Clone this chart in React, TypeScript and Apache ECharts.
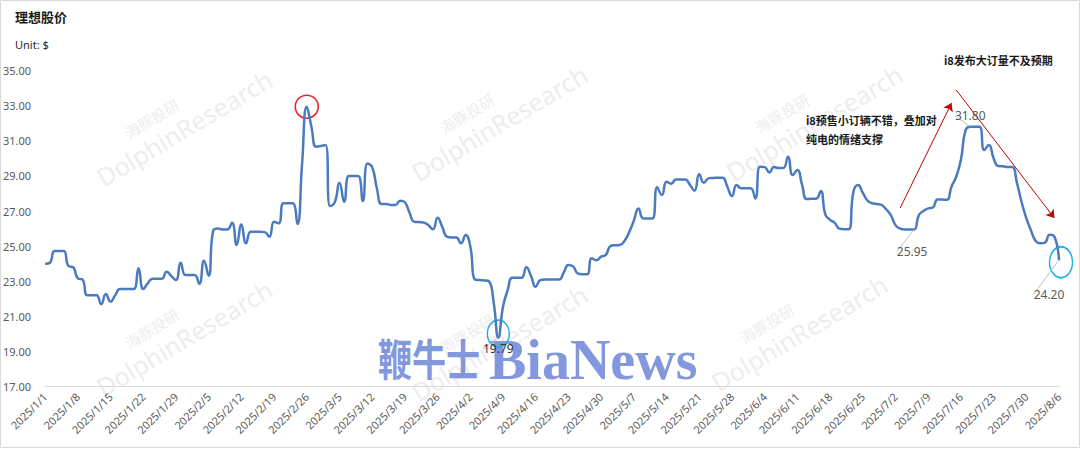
import React, { useEffect, useRef } from "react";
import * as echarts from "echarts";

// Daily closing prices (calendar days from 2025/1/1)
const closes: number[] = [
  24.0, 24.05, 24.72, 24.72, 24.72, 23.87, 23.8, 23.17, 23.1, 22.2,
  22.2, 22.2, 21.7, 22.27, 21.84, 22.2, 22.56, 22.56, 22.56, 22.56,
  23.74, 22.56, 22.9, 23.15, 23.15, 23.15, 23.55, 23.3, 23.07, 24.06,
  23.36, 23.36, 23.36, 22.85, 24.17, 23.32, 25.9, 26.0, 25.95, 25.95,
  26.33, 25.07, 26.24, 25.16, 25.82, 25.82, 25.82, 25.8, 25.54, 26.39,
  26.3, 27.44, 27.44, 27.44, 26.26, 29.7, 32.94, 31.8, 30.66, 30.7,
  30.76, 27.28, 27.5, 28.61, 27.53, 28.99, 28.99, 28.99, 27.57, 29.7,
  29.5, 28.3, 27.4, 27.4, 27.35, 27.35, 27.59, 27.5, 26.9, 26.39,
  26.37, 26.35, 26.2, 25.96, 26.62, 26.1, 25.54, 25.5, 25.5, 25.16,
  25.63, 25.0, 23.1, 23.07, 23.05, 23.0, 21.8, 19.79, 21.55, 22.5,
  23.2, 23.2, 23.2, 23.8, 23.3, 22.69, 23.07, 23.1, 23.1, 23.1,
  23.1, 23.5, 23.93, 23.85, 23.45, 23.4, 23.4, 24.31, 24.2, 24.4,
  24.5, 25.0, 25.05, 25.06, 25.3, 25.8, 26.45, 27.15, 26.58, 26.58,
  26.58, 28.35, 27.91, 28.67, 28.55, 28.8, 28.8, 28.8, 28.5, 28.16,
  29.09, 28.61, 28.86, 28.88, 28.9, 28.9, 28.4, 27.85, 28.48, 28.29,
  28.29, 28.29, 27.72, 29.52, 29.5, 29.2, 29.5, 29.45, 29.45, 30.09,
  29.05, 29.33, 28.5, 27.68, 27.7, 27.7, 28.14, 26.8, 26.5, 26.33,
  26.0, 25.97, 25.97, 28.1, 28.48, 28.04, 27.6, 27.44, 27.4, 27.35,
  27.1, 26.77, 26.2, 26.0, 25.95, 25.95, 25.95, 26.77, 27.0, 27.15,
  27.2, 27.66, 27.65, 27.64, 28.4, 28.95, 29.9, 31.6, 31.8, 31.8,
  31.8, 30.47, 30.76, 30.0, 29.56, 29.55, 29.5, 29.5, 28.6, 27.5,
  26.6, 25.9, 25.3, 25.16, 25.2, 25.65, 25.55, 24.2,
];

// Category dates, one per calendar day
const dates: string[] = [];
for (let i = 0; i < closes.length; i++) {
  const d = new Date(Date.UTC(2025, 0, 1 + i));
  dates.push(`${d.getUTCFullYear()}/${d.getUTCMonth() + 1}/${d.getUTCDate()}`);
}

const yTicks = { min: 17, max: 35, interval: 2 };

// Highlighted points (indices into closes)
const lowIdx = 97; // 2025/4/8
const julyLowIdx = 186;
const julyHighIdx = 198;
const lastIdx = 217;
const peakIdx = 56;
const labelledIdx = [lowIdx, julyLowIdx, julyHighIdx, lastIdx];

// Arrow annotations: [startIdx, startVal, endIdx, endVal]
const arrows: [number, number, number, number][] = [
  [183, 27.17, 194, 33.15],
  [195, 33.89, 216, 26.6],
];

const title = "理想股价";
const unitText = "Unit: $";
const note1 = ["i8预售小订辆不错，叠加对", "纯电的情绪支撑"];
const note2 = "i8发布大订量不及预期";

const ellipsePath = "path://M0,10 A10,10 0 1,1 20,10 A10,10 0 1,1 0,10 Z";

export default function App() {
  const ref = useRef<HTMLDivElement>(null);
  useEffect(() => {
    if (!ref.current) return;
    const chart = echarts.init(ref.current, undefined, { renderer: "svg" });
    const font = "'Noto Sans', 'Noto Sans CJK SC', sans-serif";
    const cjk = "'Noto Sans CJK SC', 'Noto Sans', sans-serif";

    const seriesData = closes.map((v, i) => {
      if (!labelledIdx.includes(i)) return v;
      const position = i === julyHighIdx ? "top" : "bottom";
      return {
        value: v,
        label: {
          show: true,
          position,
          distance: 5,
          formatter: (p: any) => Number(p.value).toFixed(2),
          color: i === lowIdx ? "#333333" : "#595959",
          fontSize: 12,
          fontFamily: font,
        },
      };
    });

    const wm = (cx: number, cy: number) => [
      {
        type: "text",
        x: cx - 60,
        y: cy + 5,
        rotation: 0.54,
        silent: true,
        z: 0,
        style: {
          text: "海豚投研",
          fill: "#ededed",
          font: `15px ${cjk}`,
          align: "left",
          verticalAlign: "bottom",
        },
      },
      {
        type: "text",
        x: cx - 85,
        y: cy + 55,
        rotation: 0.54,
        silent: true,
        z: 0,
        style: {
          text: "DolphinResearch",
          fill: "#ededed",
          font: `25px ${font}`,
          align: "left",
          verticalAlign: "bottom",
        },
      },
    ];

    const bnColor = "rgba(108,133,216,0.85)";

    chart.setOption({
      animation: false,
      backgroundColor: "#ffffff",
      grid: { left: 43, right: 21, top: 70.5, bottom: 62.3, containLabel: false },
      xAxis: {
        type: "category",
        data: dates,
        boundaryGap: false,
        axisLine: { show: true, lineStyle: { color: "#d9d9d9", width: 1 } },
        axisTick: { show: false },
        axisLabel: {
          interval: 6,
          rotate: 45,
          color: "#595959",
          fontSize: 11,
          fontFamily: font,
          margin: 8,
        },
        splitLine: { show: false },
      },
      yAxis: {
        type: "value",
        min: yTicks.min,
        max: yTicks.max,
        interval: yTicks.interval,
        axisLine: { show: false },
        axisTick: { show: false },
        splitLine: { show: false },
        axisLabel: {
          color: "#595959",
          fontSize: 11,
          fontFamily: font,
          margin: 14,
          formatter: (v: number) => v.toFixed(2),
        },
      },
      graphic: [
        {
          type: "rect",
          silent: true,
          z: -1,
          shape: { x: 0.5, y: 0.5, width: 1079, height: 447 },
          style: { fill: "none", stroke: "#d9d9d9", lineWidth: 1 },
        },
        ...wm(190, 135),
        ...wm(505, 130),
        ...wm(820, 130),
        ...wm(190, 345),
        ...wm(505, 350),
        ...wm(805, 340),
        {
          type: "text",
          left: 15,
          top: 10,
          style: { text: title, fill: "#1a1a1a", font: `bold 13px ${cjk}` },
        },
        {
          type: "text",
          left: 15,
          top: 39,
          style: { text: unitText, fill: "#262626", font: `11px ${font}` },
        },
        {
          type: "text",
          left: 806,
          top: 110,
          style: {
            text: note1.join("\n"),
            fill: "#1a1a1a",
            font: `bold 11px ${cjk}`,
            lineHeight: 19,
          },
        },
        {
          type: "text",
          left: 944,
          top: 54,
          style: { text: note2, fill: "#1a1a1a", font: `bold 11px ${cjk}` },
        },
        {
          type: "text",
          x: 378,
          y: 357,
          scaleY: 1.28,
          silent: true,
          z: 1,
          style: {
            text: "鞭牛士",
            fill: bnColor,
            font: `bold 34px ${cjk}`,
            align: "left",
            verticalAlign: "middle",
          },
        },
        {
          type: "text",
          x: 489,
          y: 360,
          silent: true,
          z: 1,
          style: {
            text: "BiaNews",
            fill: bnColor,
            font: `bold 56px 'Liberation Serif', 'DejaVu Serif', serif`,
            align: "left",
            verticalAlign: "middle",
          },
        },
      ],
      series: [
        {
          type: "line",
          data: seriesData,
          smooth: 0.5,
          symbol: "circle",
          symbolSize: 0,
          showSymbol: true,
          showAllSymbol: true,
          itemStyle: { color: "#4a7bbd" },
          lineStyle: { color: "#4a7bbd", width: 2.5 },
          z: 5,
          labelLine: { show: true, lineStyle: { color: "#bfbfbf", width: 1 } },
          labelLayout: (p: any) => {
            if (p.dataIndex === lastIdx) return { dx: -10, dy: 23 };
            if (p.dataIndex === julyLowIdx) return { dx: -2, dy: 11 };
            return {};
          },
          markPoint: {
            silent: true,
            label: { show: false },
            data: [
              {
                coord: [dates[peakIdx], closes[peakIdx]],
                symbol: ellipsePath,
                symbolSize: [23, 23],
                itemStyle: { color: "rgba(0,0,0,0)", borderColor: "#e8262a", borderWidth: 1.6 },
              },
              {
                coord: [dates[lowIdx], closes[lowIdx]],
                symbol: ellipsePath,
                symbolSize: [22, 27],
                symbolOffset: [0, -4],
                itemStyle: { color: "rgba(0,0,0,0)", borderColor: "#1fb0e6", borderWidth: 1.6 },
              },
              {
                coord: [dates[lastIdx], closes[lastIdx]],
                symbol: ellipsePath,
                symbolSize: [23, 31],
                symbolOffset: [2, 2],
                itemStyle: { color: "rgba(0,0,0,0)", borderColor: "#1fb0e6", borderWidth: 1.6 },
              },
            ],
          },
          markLine: {
            silent: true,
            symbol: ["none", "arrow"],
            symbolSize: 8,
            label: { show: false },
            lineStyle: { color: "#c00000", width: 1, type: "solid" },
            data: arrows.map(([s, sv, e, ev]) => [
              { coord: [dates[s], sv] },
              { coord: [dates[e], ev] },
            ]),
          },
        },
      ],
    });
    return () => chart.dispose();
  }, []);

  return (
    <div
      ref={ref}
      style={{ position: "absolute", left: 0, top: 0, width: 1080, height: 449 }}
    />
  );
}
